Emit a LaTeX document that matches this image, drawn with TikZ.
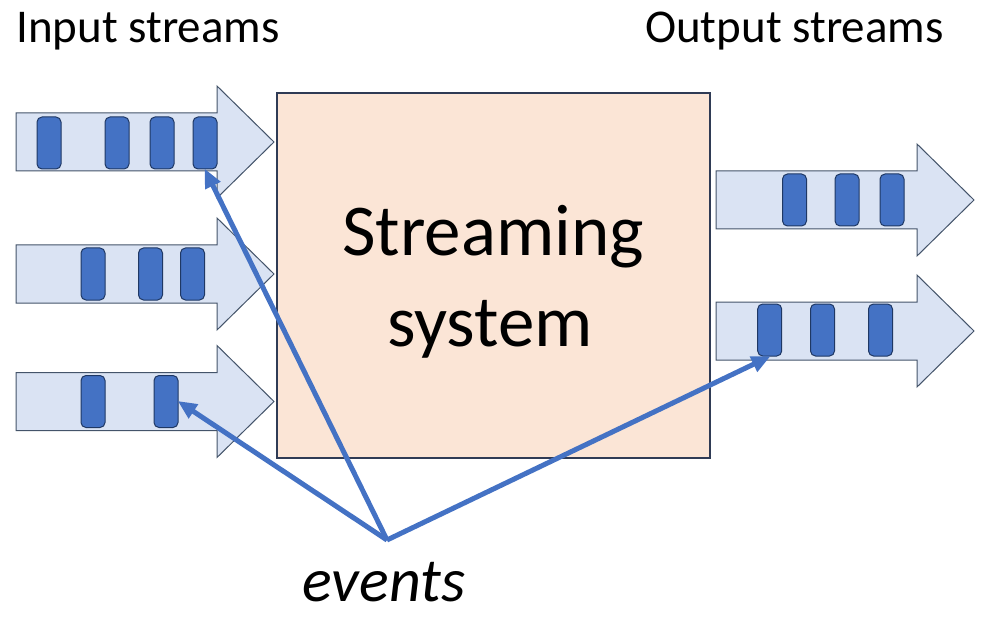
\documentclass[tikz,border=0pt]{standalone}
\usepackage{fontspec}
\setmainfont{Carlito}
\usetikzlibrary{arrows.meta}

\definecolor{streamfill}{HTML}{DAE3F3}
\definecolor{streamline}{HTML}{44546A}
\definecolor{eventfill}{HTML}{4472C4}
\definecolor{eventline}{HTML}{1F3864}
\definecolor{sysfill}{HTML}{FBE5D6}
\definecolor{sysline}{HTML}{2F3B55}

% block arrow: #1 = left x, #2 = centre y, #3 = name
\newcommand\streamarrow[3]{%
  \draw[stream] (#1,#2-29) -- (#1+201,#2-29) -- (#1+201,#2-56)
    -- (#1+258,#2) -- (#1+201,#2+56) -- (#1+201,#2+29) -- (#1,#2+29) -- cycle;
  \coordinate (#3) at (#1+129,#2);
}

\begin{document}
\begin{tikzpicture}[x=1pt,y=-1pt,
  stream/.style={fill=streamfill, draw=streamline, line width=1pt},
  event/.style={draw=eventline, fill=eventfill, line width=1pt,
    rounded corners=5pt, minimum width=24pt, minimum height=52pt,
    inner sep=0pt},
  sysbox/.style={draw=sysline, fill=sysfill, line width=1.2pt},
  pointer/.style={draw=eventfill, line width=5pt,
    -{Triangle[length=19pt,width=16pt]}, shorten >=-1pt},
  label/.style={font=\fontsize{47}{54}\selectfont, anchor=base west, inner sep=0pt},
  systext/.style={font=\fontsize{73}{80}\selectfont, anchor=base, inner sep=0pt}]

\useasboundingbox (0,0) rectangle (982,620);

% input streams
\streamarrow{16}{142}{in1}
\streamarrow{16}{274}{in2}
\streamarrow{16}{401.5}{in3}

\node[event] (e11) at (49,143) {};
\node[event] (e12) at (117,143) {};
\node[event] (e13) at (162,143) {};
\node[event] (e14) at (205,143) {};

\node[event] (e21) at (93,274) {};
\node[event] (e22) at (150.5,274) {};
\node[event] (e23) at (192.5,274) {};

\node[event] (e31) at (93,401.5) {};
\node[event] (e32) at (166,401.5) {};

% streaming system
\draw[sysbox] (277,93) rectangle (710,458);
\node[systext] (sys1) at (493,255) {Streaming};
\node[systext] (sys2) at (490,346.7) {system};

% output streams
\streamarrow{716}{200}{out1}
\streamarrow{716}{331}{out2}

\node[event] (e41) at (794.5,200) {};
\node[event] (e42) at (847,200) {};
\node[event] (e43) at (892,200) {};

\node[event] (e51) at (769.7,330) {};
\node[event] (e52) at (822.5,330) {};
\node[event] (e53) at (880.5,330) {};

% labels
\node[label] (inlab) at (16,43) {Input streams};
\node[label] (outlab) at (645,43) {Output streams};
\node[label, font=\fontsize{62}{70}\selectfont\itshape, anchor=base] (evlab) at (384,601.7) {events};

% pointers from the label to sample events
\coordinate (apex) at (387,540);
\draw[pointer] (apex) -- (e14.south);
\draw[pointer] (apex) -- (e32.east);
\draw[pointer] (apex) -- (e51.south);

\end{tikzpicture}
\end{document}
